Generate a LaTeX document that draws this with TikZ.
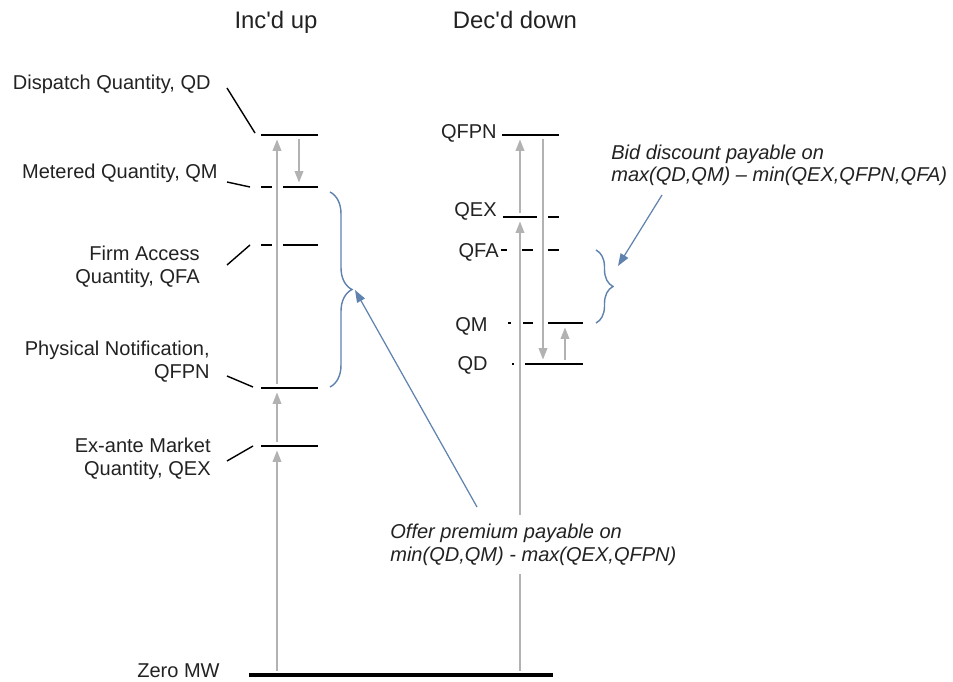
\documentclass[tikz,border=0pt]{standalone}
\usepackage{fontspec}
\setmainfont{Liberation Sans}
\usetikzlibrary{arrows.meta,decorations.pathreplacing}
\definecolor{arrowgray}{RGB}{178,178,178}
\definecolor{braceblue}{RGB}{95,130,175}
\definecolor{textgray}{RGB}{34,34,34}
\tikzset{
	bar/.style={line width=1.7pt},
	zeroline/.style={line width=1.9pt},
	leader/.style={line width=0.8pt},
	move/.style={arrowgray, line width=1.1pt, shorten <=2.5pt, shorten >=2.5pt, -{Triangle[length=6.5pt,width=4.8pt]}},
	pointer/.style={braceblue, line width=0.7pt, -{Triangle[length=7pt,width=5pt]}},
	curly/.style={braceblue, line width=0.8pt, decorate, decoration={brace, amplitude=#1}},
	lbl/.style={font=\fontsize{11.4}{13}\selectfont, text=textgray, inner sep=0pt},
	note/.style={font=\fontsize{11.4}{13}\selectfont\itshape, text=textgray, align=left, fill=white, inner xsep=0pt, inner ysep=5pt},
	colhead/.style={font=\fontsize{13.6}{16}\selectfont, text=textgray, inner sep=0pt}
}

\begin{document}
\begin{tikzpicture}[x=0.02cm, y=-0.02cm]
	\useasboundingbox (0,0) rectangle (953,682);

	\node[colhead, anchor=base] (hinc) at (276,29) {Inc\textquotesingle d up};
	\node[colhead, anchor=base] (hdec) at (515,29) {Dec\textquotesingle d down};

	\draw[zeroline] (249,675) -- (553,675);
	\node[lbl, anchor=base east] (zero) at (220,677) {Zero MW};

	\node[lbl, anchor=base east] (dq) at (211,90) {Dispatch Quantity, QD};
	\node[lbl, anchor=base east] (mq) at (218,179) {Metered Quantity, QM};
	\node[lbl, anchor=base east, align=right] (fa) at (200,283) {Firm Access\\Quantity, QFA};
	\node[lbl, anchor=base east, align=right] (pn) at (210,378) {Physical Notification,\\QFPN};
	\node[lbl, anchor=base east, align=right] (ex) at (211,475) {Ex-ante Market\\Quantity, QEX};

	\draw[bar] (261,135) -- (318,135);
	\draw[bar] (261,187) -- (272,187) (283,187) -- (318,187);
	\draw[bar] (261,245) -- (272,245) (283,245) -- (318,245);
	\draw[bar] (261,388) -- (318,388);
	\draw[bar] (261,446) -- (318,446);

	\coordinate (dqend) at (255,133);
	\coordinate (mqend) at (250,187);
	\coordinate (faend) at (250,245);
	\coordinate (pnend) at (253,387);
	\coordinate (exend) at (253,446);
	\draw[leader] ([shift={(16,-2)}]dq.base east) -- (dqend);
	\draw[leader] ([shift={(9,3)}]mq.base east) -- (mqend);
	\draw[leader] ([shift={(27,-18)}]fa.base east) -- (faend);
	\draw[leader] ([shift={(17,-2)}]pn.base east) -- (pnend);
	\draw[leader] ([shift={(16,-14)}]ex.base east) -- (exend);

	\coordinate (inczero) at (277,675);
	\coordinate (incex) at (277,446);
	\coordinate (incpn) at (277,388);
	\coordinate (incqd) at (277,135);
	\coordinate (incqdb) at (299,135);
	\coordinate (incqmb) at (299,187);
	\draw[move] (inczero) -- (incex);
	\draw[move] (incex) -- (incpn);
	\draw[move] (incpn) -- (incqd);
	\draw[move] (incqdb) -- (incqmb);

	\node[lbl, anchor=base east] (rpn) at (497,139) {QFPN};
	\node[lbl, anchor=base east] (rex) at (497,216) {QEX};
	\node[lbl, anchor=base east] (rfa) at (499,257) {QFA};
	\node[lbl, anchor=base east] (rm) at (488,331) {QM};
	\node[lbl, anchor=base east] (rd) at (488,370) {QD};

	\draw[bar] (502,135) -- (559,135);
	\draw[bar] (503,217) -- (537,217) (548,217) -- (559,217);
	\draw[bar] (501,250) -- (507,250) (522,250) -- (533,250) (548,250) -- (559,250);
	\draw[bar] (508,323) -- (511,323) (523,323) -- (533,323) (548,323) -- (583,323);
	\draw[bar] (512,364) -- (514,364) (525,364) -- (583,364);

	\coordinate (deczero) at (520,675);
	\coordinate (decex) at (520,217);
	\coordinate (decpn) at (520,135);
	\coordinate (decpnb) at (543,135);
	\coordinate (decqdb) at (543,364);
	\coordinate (decqdc) at (565,364);
	\coordinate (decqmc) at (565,323);
	\draw[move] (deczero) -- (decex);
	\draw[move] (decex) -- (decpn);
	\draw[move] (decpnb) -- (decqdb);
	\draw[move] (decqdc) -- (decqmc);

	\draw[curly=0.44cm] (330,192) -- (330,387);
	\draw[curly=0.34cm] (596,250) -- (596,323);

	\node[note, anchor=base west] (offer) at (390,561) {Offer premium payable on\\min(QD,QM) - max(QEX,QFPN)};
	\node[note, anchor=base west] (bid) at (611,182) {Bid discount payable on\\max(QD,QM) -- min(QEX,QFPN,QFA)};

	\coordinate (offerhook) at (477,507);
	\coordinate (bidhook) at (662,195);
	\coordinate (tipL) at (355,290);
	\coordinate (tipR) at (618,266);
	\draw[pointer] (offerhook) -- (tipL);
	\draw[pointer] (bidhook) -- (tipR);
\end{tikzpicture}
\end{document}
